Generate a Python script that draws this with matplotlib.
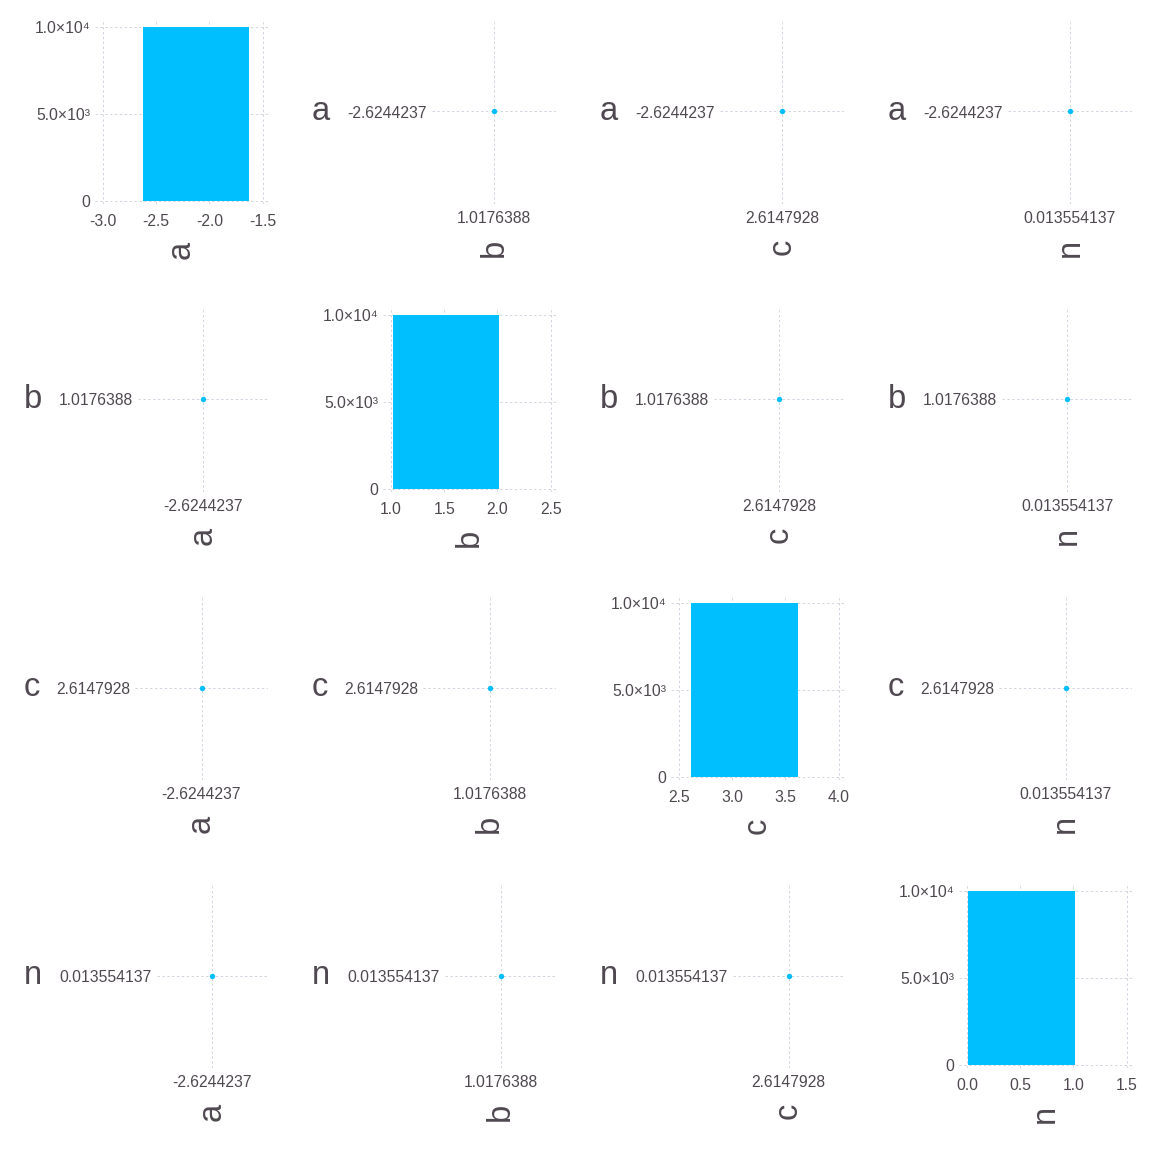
import numpy as np
import matplotlib as mpl
mpl.use('Agg')
import matplotlib.pyplot as plt
from matplotlib.transforms import blended_transform_factory

# corner plot of a chain where every sample is the same point
names = ['a', 'b', 'c', 'n']
values = [-2.6244237, 1.0176388, 2.6147928, 0.013554137]
n_samples = 10000
bin_width = 1.0
hist_xticks = [[-3.0, -2.5, -2.0, -1.5],
               [1.0, 1.5, 2.0, 2.5],
               [2.5, 3.0, 3.5, 4.0],
               [0.0, 0.5, 1.0, 1.5]]
count_ticks = [0, 5000, 10000]
count_ticklabels = ['0', '5.0×10³', '1.0×10⁴']

BLUE = '#00bfff'
TEXT = '#4f4850'
GRID = '#d4d4e2'
W = H = 1152
CELL = 288

plt.rcParams['font.family'] = ['Liberation Sans', 'DejaVu Sans']

# left edge of the off-diagonal plot areas, depends on the y tick label width
offdiag_left = {0: 144, 1: 138, 2: 135, 3: 157}

fig = plt.figure(figsize=(W / 100, H / 100), dpi=100)


def style(ax, xpad):
    for s in ax.spines.values():
        s.set_visible(False)
    ax.tick_params(length=0, labelsize=11.3, colors=TEXT)
    ax.tick_params(axis='x', pad=xpad)
    ax.tick_params(axis='y', pad=3.6)
    ax.set_axisbelow(True)
    ax.grid(True, color=GRID, linestyle=(0, (2.5, 2.5)), linewidth=0.7)


nv = len(names)
for r in range(nv):
    for c in range(nv):
        top = 19 + CELL * r
        bottom = 204 + CELL * r
        right = 268 + CELL * c
        if r == c:
            left = 95 + CELL * c
        else:
            left = CELL * c + offdiag_left[r]
        ax = fig.add_axes([left / W, 1 - bottom / H, (right - left) / W, (bottom - top) / H])

        if r == c:
            ax.bar(values[c], n_samples, width=bin_width, align='edge',
                   color=BLUE, linewidth=0)
            ticks = hist_xticks[c]
            ax.set_xticks(ticks)
            ax.set_xticklabels(['%.1f' % t for t in ticks])
            ax.set_xlim(ticks[0] - 0.075, ticks[-1] + 0.05)
            ax.set_yticks(count_ticks)
            ax.set_yticklabels(count_ticklabels)
            ax.set_ylim(-150, n_samples * 1.043)
            style(ax, 7.0)
        else:
            ax.scatter([values[c]], [values[r]], s=15, color=BLUE,
                       linewidths=0, zorder=3)
            ax.set_xlim(values[c] - 1, values[c] + 1)
            ax.set_ylim(values[r] - 1, values[r] + 1)
            ax.set_xticks([values[c]])
            ax.set_xticklabels(['%.8g' % values[c]])
            ax.set_yticks([values[r]])
            ax.set_yticklabels(['%.8g' % values[r]])
            style(ax, 5.0)
            ax.set_ylabel(names[r], rotation=0, ha='left', va='center',
                          fontsize=23.5, color=TEXT)
            tr = blended_transform_factory(fig.transFigure, ax.transAxes)
            ax.yaxis.set_label_coords((CELL * c + 24) / W, 0.5, transform=tr)

        ax.set_xlabel(names[c], rotation=90, fontsize=23.5, color=TEXT,
                      labelpad=9)

fig.savefig('out.png', dpi=100, facecolor='white')
